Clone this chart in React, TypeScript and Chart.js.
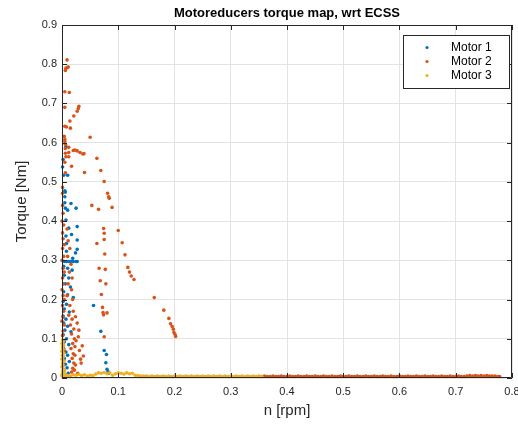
import React, { useEffect, useRef } from "react";
import { Chart, registerables } from "chart.js";

Chart.register(...registerables);

const titleText = "Motoreducers torque map, wrt ECSS";
const xLabel = "n [rpm]";
const yLabel = "Torque [Nm]";
const xTicks = [0, 0.1, 0.2, 0.3, 0.4, 0.5, 0.6, 0.7, 0.8];
const yTicks = [0, 0.1, 0.2, 0.3, 0.4, 0.5, 0.6, 0.7, 0.8, 0.9];
const seriesNames = ["Motor 1", "Motor 2", "Motor 3"];
const seriesColors = ["#0072BD", "#D95319", "#EDB120"];

const motor1Points: [number, number][] = [
  [0.007, 0.59], [0.002, 0.557], [0.001, 0.538], [0.01, 0.517], [0.003, 0.517], [0.005, 0.477], [0.006, 0.474], [0.005, 0.462],
  [0.016, 0.445], [0.025, 0.433], [0.01, 0.428], [0.006, 0.433], [0.005, 0.447], [0.007, 0.403], [0.012, 0.382], [0.027, 0.386],
  [0.027, 0.352], [0.008, 0.343], [0.007, 0.362], [0.017, 0.366], [0.027, 0.328], [0.024, 0.319], [0.008, 0.323], [0.019, 0.305],
  [0.004, 0.297], [0.008, 0.297], [0.012, 0.297], [0.016, 0.297], [0.02, 0.297], [0.025, 0.297], [0.027, 0.297],
  [0.003, 0.285], [0.01, 0.28], [0.018, 0.275], [0.004, 0.262], [0.012, 0.255], [0.006, 0.24], [0.015, 0.232], [0.003, 0.22],
  [0.01, 0.212], [0.02, 0.205], [0.002, 0.195], [0.008, 0.188], [0.004, 0.176], [0.013, 0.168], [0.002, 0.158], [0.007, 0.15],
  [0.003, 0.14], [0.01, 0.132], [0.005, 0.122], [0.016, 0.118], [0.002, 0.11], [0.008, 0.1], [0.004, 0.092], [0.012, 0.085],
  [0.003, 0.075], [0.007, 0.066], [0.01, 0.058], [0.004, 0.05], [0.013, 0.042], [0.006, 0.035], [0.009, 0.026], [0.003, 0.018],
  [0.011, 0.012], [0.005, 0.006],
  [0.056, 0.185], [0.069, 0.119], [0.075, 0.07], [0.079, 0.06], [0.078, 0.039], [0.08, 0.022], [0.082, 0.016], [0.083, 0.012],
];

const motor2Points: [number, number][] = [
  [0.009, 0.811], [0.01, 0.792], [0.007, 0.79], [0.006, 0.784], [0.011, 0.793],
  [0.005, 0.73], [0.013, 0.728],
  [0.005, 0.69], [0.03, 0.693], [0.029, 0.687], [0.027, 0.68],
  [0.021, 0.668], [0.014, 0.655], [0.005, 0.642], [0.008, 0.64], [0.015, 0.637],
  [0.05, 0.614], [0.004, 0.616], [0.005, 0.608], [0.005, 0.603], [0.006, 0.596], [0.012, 0.588], [0.006, 0.585],
  [0.02, 0.58], [0.023, 0.581], [0.027, 0.579], [0.032, 0.575], [0.037, 0.571], [0.039, 0.572],
  [0.012, 0.575], [0.006, 0.573], [0.007, 0.564], [0.012, 0.564], [0.062, 0.56],
  [0.005, 0.55], [0.017, 0.54], [0.069, 0.529], [0.04, 0.524], [0.006, 0.523],
  [0.075, 0.501], [0.001, 0.486], [0.001, 0.471], [0.081, 0.471], [0.083, 0.462], [0.084, 0.458],
  [0.053, 0.44], [0.065, 0.43], [0.089, 0.435],
  [0.074, 0.381], [0.075, 0.369], [0.1, 0.376], [0.062, 0.343], [0.075, 0.353], [0.107, 0.345],
  [0.076, 0.316], [0.112, 0.314], [0.066, 0.28], [0.077, 0.277], [0.117, 0.282], [0.12, 0.27], [0.123, 0.26], [0.128, 0.251],
  [0.068, 0.248], [0.078, 0.24], [0.07, 0.213], [0.164, 0.205],
  [0.072, 0.18], [0.073, 0.167], [0.074, 0.161], [0.08, 0.166],
  [0.181, 0.173], [0.19, 0.152], [0.193, 0.138], [0.196, 0.131], [0.198, 0.124], [0.199, 0.116], [0.201, 0.111], [0.202, 0.106],
  [0.075, 0.105],
  [0.001, 0.44], [0.002, 0.42], [0.0, 0.4], [0.003, 0.39], [0.001, 0.37], [0.002, 0.355], [0.004, 0.34], [0.001, 0.33],
  [0.003, 0.31], [0.0, 0.3], [0.002, 0.28], [0.004, 0.27], [0.001, 0.255], [0.003, 0.24], [0.0, 0.225], [0.002, 0.21],
  [0.004, 0.2], [0.001, 0.185], [0.003, 0.17], [0.002, 0.155], [0.0, 0.145], [0.004, 0.135], [0.002, 0.12], [0.001, 0.108],
  [0.003, 0.095], [0.002, 0.082], [0.004, 0.07], [0.001, 0.058], [0.003, 0.045], [0.002, 0.032], [0.004, 0.02], [0.001, 0.01],
  [0.009, 0.38], [0.011, 0.35], [0.014, 0.33], [0.01, 0.31], [0.016, 0.29], [0.013, 0.27], [0.018, 0.255], [0.011, 0.24],
  [0.017, 0.225], [0.009, 0.21], [0.019, 0.2], [0.014, 0.185], [0.02, 0.17], [0.012, 0.16], [0.018, 0.15], [0.015, 0.135],
  [0.021, 0.125], [0.017, 0.112], [0.022, 0.1], [0.019, 0.088], [0.016, 0.075], [0.02, 0.062], [0.018, 0.05], [0.021, 0.038],
  [0.019, 0.025], [0.017, 0.015],
  [0.024, 0.156], [0.027, 0.14], [0.03, 0.122], [0.029, 0.105], [0.025, 0.095], [0.036, 0.082], [0.038, 0.056], [0.033, 0.048],
  [0.034, 0.038], [0.023, 0.08], [0.023, 0.058], [0.024, 0.033], [0.022, 0.02], [0.028, 0.012], [0.031, 0.07],
  [0.35, 0.004], [0.355, 0.004], [0.36, 0.005], [0.365, 0.004], [0.37, 0.004], [0.375, 0.005], [0.38, 0.004], [0.385, 0.004],
  [0.39, 0.005], [0.395, 0.004], [0.4, 0.004], [0.405, 0.005], [0.41, 0.004], [0.415, 0.004], [0.42, 0.005], [0.425, 0.004],
  [0.43, 0.004], [0.435, 0.005], [0.44, 0.004], [0.445, 0.004], [0.45, 0.005], [0.455, 0.004], [0.46, 0.004], [0.465, 0.005],
  [0.47, 0.004], [0.475, 0.004], [0.48, 0.005], [0.485, 0.004], [0.49, 0.004], [0.495, 0.005], [0.5, 0.004], [0.505, 0.004],
  [0.51, 0.005], [0.515, 0.004], [0.52, 0.004], [0.525, 0.005], [0.53, 0.004], [0.535, 0.004], [0.54, 0.005], [0.545, 0.004],
  [0.55, 0.004], [0.555, 0.005], [0.56, 0.004], [0.565, 0.004], [0.57, 0.005], [0.575, 0.004], [0.58, 0.004], [0.585, 0.005],
  [0.59, 0.004], [0.595, 0.004], [0.6, 0.005], [0.605, 0.004], [0.61, 0.004], [0.615, 0.005], [0.62, 0.004], [0.625, 0.004],
  [0.63, 0.005], [0.635, 0.004], [0.64, 0.004], [0.645, 0.005], [0.65, 0.004], [0.655, 0.004], [0.66, 0.005], [0.665, 0.004],
  [0.67, 0.004], [0.675, 0.005], [0.68, 0.004], [0.685, 0.004], [0.69, 0.005], [0.695, 0.004], [0.7, 0.004], [0.705, 0.005],
  [0.71, 0.004], [0.715, 0.004], [0.72, 0.005], [0.725, 0.006], [0.73, 0.005], [0.735, 0.006], [0.74, 0.005], [0.745, 0.006],
  [0.75, 0.005], [0.755, 0.006], [0.76, 0.005], [0.765, 0.005], [0.77, 0.005], [0.775, 0.004], [0.778, 0.004],
];

const motor3Points: [number, number][] = [
  [0.001, 0.097], [0.002, 0.092], [0.0, 0.088], [0.003, 0.083], [0.001, 0.078], [0.002, 0.073], [0.0, 0.068], [0.003, 0.063],
  [0.001, 0.058], [0.002, 0.053], [0.0, 0.048], [0.003, 0.043], [0.001, 0.038], [0.002, 0.033], [0.0, 0.028], [0.003, 0.023],
  [0.001, 0.018], [0.002, 0.013], [0.0, 0.008], [0.003, 0.005], [0.004, 0.02], [0.005, 0.01], [0.0, 0.005],
  [0.005, 0.005], [0.01, 0.006], [0.015, 0.005], [0.02, 0.008], [0.025, 0.007], [0.03, 0.009], [0.035, 0.006], [0.04, 0.008],
  [0.045, 0.005], [0.05, 0.007], [0.055, 0.006], [0.06, 0.01], [0.065, 0.013], [0.07, 0.012], [0.075, 0.014], [0.08, 0.011],
  [0.085, 0.013], [0.09, 0.007], [0.095, 0.011], [0.1, 0.013], [0.105, 0.012], [0.11, 0.01], [0.115, 0.013], [0.12, 0.011],
  [0.125, 0.012], [0.13, 0.007], [0.135, 0.006], [0.14, 0.005], [0.145, 0.005], [0.15, 0.005], [0.155, 0.004], [0.16, 0.005],
  [0.165, 0.004], [0.17, 0.005], [0.175, 0.004], [0.18, 0.005], [0.185, 0.004], [0.19, 0.005], [0.195, 0.004], [0.2, 0.005],
  [0.205, 0.004], [0.21, 0.005], [0.215, 0.004], [0.22, 0.005], [0.225, 0.004], [0.23, 0.005], [0.235, 0.004], [0.24, 0.005],
  [0.245, 0.004], [0.25, 0.005], [0.255, 0.004], [0.26, 0.005], [0.265, 0.004], [0.27, 0.005], [0.275, 0.004], [0.28, 0.005],
  [0.285, 0.004], [0.29, 0.005], [0.295, 0.004], [0.3, 0.005], [0.305, 0.004], [0.31, 0.005], [0.315, 0.004], [0.32, 0.005],
  [0.325, 0.004], [0.33, 0.005], [0.335, 0.004], [0.34, 0.005], [0.345, 0.004], [0.35, 0.005], [0.355, 0.004],
];

const seriesPoints = [motor1Points, motor2Points, motor3Points];

const FONT = "'Liberation Sans', Arial, Helvetica, sans-serif";
const AXIS_COLOR = "#262626";

const decorPlugin = {
  id: "matlabDecor",
  afterDraw(chart: any) {
    const ctx = chart.ctx as CanvasRenderingContext2D;
    const { left, right, top, bottom } = chart.chartArea;
    const xs = chart.scales.x;
    const ys = chart.scales.y;
    ctx.save();
    ctx.strokeStyle = AXIS_COLOR;
    ctx.lineWidth = 1;
    ctx.beginPath();
    ctx.rect(left + 0.5, top + 0.5, right - left - 1, bottom - top - 1);
    ctx.stroke();
    ctx.beginPath();
    for (const v of xTicks) {
      const px = Math.round(xs.getPixelForValue(v)) + 0.5;
      ctx.moveTo(px, bottom);
      ctx.lineTo(px, bottom - 5);
      ctx.moveTo(px, top);
      ctx.lineTo(px, top + 5);
    }
    for (const v of yTicks) {
      const py = Math.round(ys.getPixelForValue(v)) + 0.5;
      ctx.moveTo(left, py);
      ctx.lineTo(left + 5, py);
      ctx.moveTo(right, py);
      ctx.lineTo(right - 5, py);
    }
    ctx.stroke();
    ctx.fillStyle = "#000";
    ctx.textAlign = "center";
    ctx.textBaseline = "middle";
    ctx.font = `bold 13px ${FONT}`;
    ctx.fillText(titleText, (left + right) / 2, 13);
    ctx.fillStyle = AXIS_COLOR;
    ctx.font = `15px ${FONT}`;
    ctx.fillText(xLabel, (left + right) / 2, 411);
    ctx.save();
    ctx.translate(22, (top + bottom) / 2);
    ctx.rotate(-Math.PI / 2);
    ctx.fillText(yLabel, 0, 0);
    ctx.restore();
    const bx = 403, by = 35, bw = 106, bh = 53;
    ctx.fillStyle = "#fff";
    ctx.fillRect(bx, by, bw, bh);
    ctx.strokeStyle = "#262626";
    ctx.lineWidth = 1;
    ctx.strokeRect(bx + 0.5, by + 0.5, bw, bh);
    ctx.font = `12px ${FONT}`;
    ctx.textAlign = "left";
    seriesNames.forEach((name, i) => {
      const cy = by + 12.5 + i * 14;
      ctx.fillStyle = seriesColors[i];
      ctx.beginPath();
      ctx.arc(427, cy, 1.6, 0, Math.PI * 2);
      ctx.fill();
      ctx.fillStyle = "#000";
      ctx.fillText(name, 451, cy + 0.5);
    });
    ctx.restore();
  },
};

export default function App() {
  const canvasRef = useRef<HTMLCanvasElement | null>(null);

  useEffect(() => {
    document.body.style.margin = "0";
    const canvas = canvasRef.current;
    if (!canvas) return;
    const datasets = seriesNames.map((name, i) => ({
      label: name,
      data: seriesPoints[i].map(([x, y]) => ({ x, y })),
      pointRadius: 1.8,
      pointHoverRadius: 1.8,
      pointBorderWidth: 0,
      pointBackgroundColor: seriesColors[i],
      backgroundColor: seriesColors[i],
      borderColor: seriesColors[i],
      showLine: false,
      clip: 4,
      order: 3 - i,
    }));
    const chart = new Chart(canvas, {
      type: "scatter",
      data: { datasets },
      options: {
        responsive: false,
        animation: false,
        events: [],
        layout: { padding: { top: 25, right: 6, left: 0, bottom: 0 } },
        plugins: {
          legend: { display: false },
          title: { display: false },
          tooltip: { enabled: false },
        },
        scales: {
          x: {
            type: "linear",
            min: 0,
            max: 0.8,
            afterBuildTicks: (s: any) => {
              s.ticks = xTicks.map((v) => ({ value: v }));
            },
            afterFit: (s: any) => {
              s.height = 47;
              s.paddingLeft = 0;
              s.paddingRight = 0;
            },
            ticks: {
              color: AXIS_COLOR,
              font: { family: FONT, size: 11 },
              padding: 7,
              maxRotation: 0,
              callback: (v: any) => String(Math.round(Number(v) * 10) / 10),
            },
            grid: { color: "#e3e3e3", drawTicks: false },
            border: { display: false },
          },
          y: {
            type: "linear",
            min: 0,
            max: 0.9,
            afterBuildTicks: (s: any) => {
              s.ticks = yTicks.map((v) => ({ value: v }));
            },
            afterFit: (s: any) => {
              s.width = 62;
              s.paddingTop = 0;
              s.paddingBottom = 0;
            },
            ticks: {
              color: AXIS_COLOR,
              font: { family: FONT, size: 11 },
              padding: 5,
              callback: (v: any) => String(Math.round(Number(v) * 10) / 10),
            },
            grid: { color: "#e3e3e3", drawTicks: false },
            border: { display: false },
          },
        },
      },
      plugins: [decorPlugin],
    });
    return () => chart.destroy();
  }, []);

  return (
    <div style={{ width: 518, height: 425, background: "#fff" }}>
      <canvas ref={canvasRef} width={518} height={425} style={{ display: "block" }} />
    </div>
  );
}
